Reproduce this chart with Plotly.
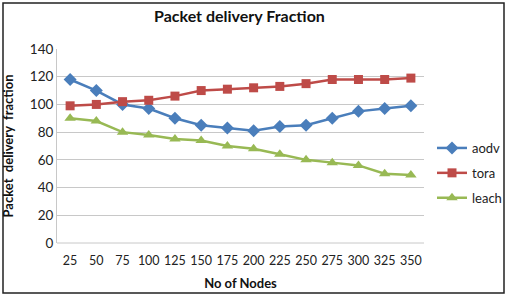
import plotly.graph_objects as go

nodes = ["25", "50", "75", "100", "125", "150", "175", "200", "225", "250", "275", "300", "325", "350"]
aodv = [118, 110, 100, 97, 90, 85, 83, 81, 84, 85, 90, 95, 97, 99]
tora = [99, 100, 102, 103, 106, 110, 111, 112, 113, 115, 118, 118, 118, 119]
leach = [90, 88, 80, 78, 75, 74, 70, 68, 64, 60, 58, 56, 50, 49]

W, H = 508, 298
L, R, T, B = 57, 84, 49, 55
pw, ph = W - L - R, H - T - B

def px(x):
    return (x - L) / pw

def py(y):
    return (H - B - y) / ph

fig = go.Figure()
fig.add_trace(go.Scatter(x=nodes, y=aodv, name="aodv", mode="lines+markers", legendgroup="a",
                         line=dict(color="#4a7ebb", width=2.5),
                         marker=dict(symbol="diamond", size=10, color="#4a7ebb")))
fig.add_trace(go.Scatter(x=nodes, y=tora, name="tora", mode="lines+markers", legendgroup="t",
                         line=dict(color="#be4b48", width=2.5),
                         marker=dict(symbol="square", size=9, color="#be4b48")))
fig.add_trace(go.Scatter(x=nodes, y=leach, name="leach", mode="lines+markers", legendgroup="l",
                         line=dict(color="#98b954", width=2.5),
                         marker=dict(symbol="triangle-up", size=10, color="#98b954")))

fig.update_layout(
    width=W, height=H,
    margin=dict(l=L, r=R, t=T, b=B, autoexpand=False),
    paper_bgcolor="white", plot_bgcolor="white",
    font=dict(family="Lato, Open Sans, sans-serif", size=13, color="#222"),
    title=dict(text="<b>Packet delivery Fraction</b>", x=px(230), xanchor="center",
               y=1 - 16 / H, yanchor="middle", font=dict(size=16, color="#111")),
    xaxis=dict(type="category", range=[-0.5, len(nodes) - 0.5], showgrid=False,
               showline=False, ticks="", tickangle=0, ticklabelstandoff=8,
               tickfont=dict(size=12.5, color="#222"),
               title=dict(text="<b>No of Nodes</b>", font=dict(size=13, color="#111"), standoff=12)),
    yaxis=dict(range=[0, 140], dtick=20, showgrid=True, gridcolor="#c8c8c8", gridwidth=1,
               zeroline=False, showline=True, linecolor="#c8c8c8", ticks="",
               tickfont=dict(size=13.5, color="#222"),
               title=dict(text="<b>Packet  delivery  fraction</b>", font=dict(size=13, color="#111"), standoff=14)),
    legend=dict(xref="container", yref="container", x=432 / W, y=1 - 133 / H,
                xanchor="left", yanchor="top", traceorder="grouped",
                font=dict(size=13, color="#222"), itemwidth=30, tracegroupgap=5,
                bgcolor="rgba(0,0,0,0)"),
    showlegend=True,
)
fig.add_shape(type="line", xref="paper", yref="paper", x0=0, x1=1, y0=0, y1=0,
              line=dict(color="#c8c8c8", width=1))
fig.add_shape(type="rect", xref="paper", yref="paper",
              x0=px(3), x1=px(504), y0=py(293), y1=py(3),
              line=dict(color="#222", width=1.5), layer="above")

fig.write_html("out.html")
